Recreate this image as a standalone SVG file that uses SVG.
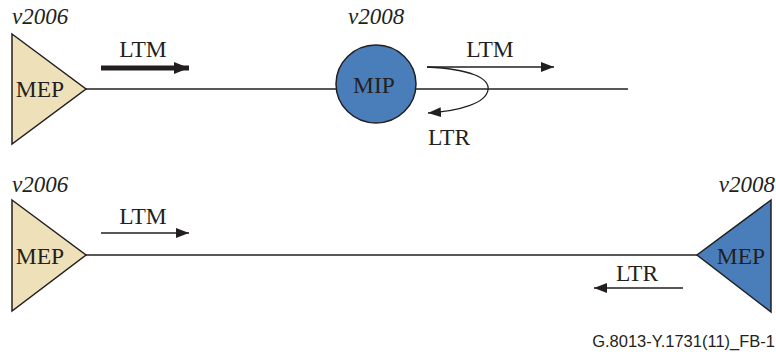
<svg xmlns="http://www.w3.org/2000/svg" width="776" height="354" viewBox="0 0 776 354">
<style>
.lbl{font-family:"Liberation Serif","Times New Roman",serif;font-size:23.5px;fill:#231f20}
.ver{font-family:"Liberation Serif","Times New Roman",serif;font-size:23px;font-style:italic;fill:#231f20}
.ln{stroke:#231f20;stroke-width:1.3;fill:none}
.mep{fill:#eee1b9;stroke:#231f20;stroke-width:1.5}
.blue{fill:#4a7ebb;stroke:#231f20;stroke-width:1.5}
</style>
<defs>
<marker id="ah" markerUnits="userSpaceOnUse" markerWidth="14" markerHeight="12" refX="13" refY="5" orient="auto">
<path d="M0,0 L13,5 L0,10 Z" fill="#231f20"/>
</marker>
<marker id="ahb" markerUnits="userSpaceOnUse" markerWidth="16" markerHeight="14" refX="15" refY="6" orient="auto">
<path d="M0,0 L15,6 L0,12 Z" fill="#231f20"/>
</marker>
</defs>
<g id="connectors">
<line class="ln" x1="86" y1="89" x2="628" y2="89"/>
<line class="ln" x1="86" y1="255" x2="697" y2="255"/>
<line x1="101" y1="68" x2="189" y2="68" stroke="#231f20" stroke-width="5" marker-end="url(#ahb)"/>
<line class="ln" x1="427" y1="67" x2="554" y2="67" marker-end="url(#ah)"/>
<path class="ln" d="M427,67 C470,69 490,78 488,90 C486,103 460,111 428,113" marker-end="url(#ah)"/>
<line class="ln" x1="101" y1="233" x2="189" y2="233" marker-end="url(#ah)"/>
<line class="ln" x1="683" y1="288" x2="594" y2="288" marker-end="url(#ah)"/>
</g>
<g id="mep-top">
<polygon class="mep" points="12,34 86,89 12,144"/>
<text class="lbl" x="40" y="97" text-anchor="middle">MEP</text>
<text class="ver" x="12" y="24">v2006</text>
</g>
<g id="mip">
<ellipse class="blue" cx="376" cy="84" rx="40" ry="39"/>
<text class="lbl" x="374" y="93" text-anchor="middle">MIP</text>
<text class="ver" x="348" y="24">v2008</text>
</g>
<g id="mep-bottom-left">
<polygon class="mep" points="12,200 86,255 12,311"/>
<text class="lbl" x="40" y="264" text-anchor="middle">MEP</text>
<text class="ver" x="12" y="192">v2006</text>
</g>
<g id="mep-bottom-right">
<polygon class="blue" points="771,200 697,255 771,312"/>
<text class="lbl" x="741" y="264" text-anchor="middle">MEP</text>
<text class="ver" x="775" y="192" text-anchor="end">v2008</text>
</g>
<g id="labels">
<text class="lbl" x="143" y="57" text-anchor="middle">LTM</text>
<text class="lbl" x="490" y="57" text-anchor="middle">LTM</text>
<text class="lbl" x="449" y="145" text-anchor="middle">LTR</text>
<text class="lbl" x="143" y="224" text-anchor="middle">LTM</text>
<text class="lbl" x="637" y="281" text-anchor="middle">LTR</text>
<text x="775" y="347" text-anchor="end" font-family="Liberation Sans,Arial,sans-serif" font-size="16.5" fill="#231f20">G.8013-Y.1731(11)_FB-1</text>
</g>
</svg>
